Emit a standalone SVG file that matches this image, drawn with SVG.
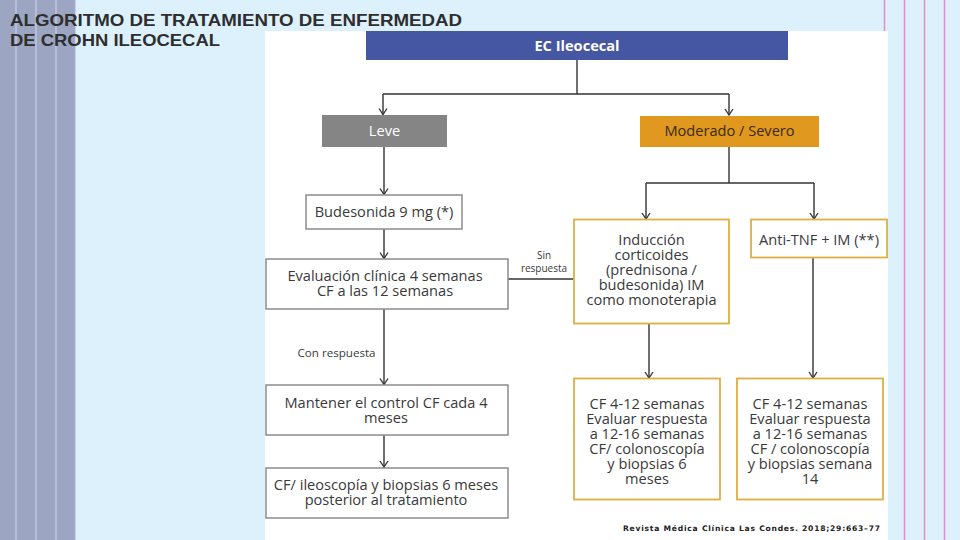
<svg xmlns="http://www.w3.org/2000/svg" width="960" height="540" viewBox="0 0 960 540">
<defs>
<style>
.bg{fill:#DDF1FD}
.stripe{stroke:#C9CFEA;stroke-width:1.2}
.pink{stroke:#E58AD6;stroke-width:1.5}
.title{font-family:"Liberation Sans",Arial,sans-serif;font-weight:bold;font-size:16.5px;fill:#2E2E2E}
.t{font-family:"Open Sans","DejaVu Sans",sans-serif;font-size:14.6px;fill:#3A3A3A;text-anchor:middle}
.lbl{font-family:"Open Sans","DejaVu Sans",sans-serif;font-size:10.5px;fill:#3A3A3A;text-anchor:middle}
.gbox{fill:#FFFFFF;stroke:#8C8C8C;stroke-width:1.5}
.obox{fill:#FFFFFF;stroke:#DDAE45;stroke-width:1.8}
.conn path{fill:none;stroke:#333333;stroke-width:1.4}
.cite{font-family:"DejaVu Sans",Verdana,sans-serif;font-weight:bold;font-size:7.6px;fill:#222}
</style>
<marker id="arr" viewBox="0 0 10 10" refX="9" refY="5" markerWidth="10" markerHeight="10" markerUnits="userSpaceOnUse" orient="auto">
<path d="M3,1 L9,5 L3,9" fill="none" stroke="#333333" stroke-width="1.3"/>
</marker>
</defs>

<rect class="bg" x="0" y="0" width="960" height="540"/>
<rect x="0" y="0" width="75" height="540" fill="#9CA6C3"/>
<line class="stripe" x1="16" y1="0" x2="16" y2="540"/>
<line class="stripe" x1="36" y1="0" x2="36" y2="540"/>
<line class="stripe" x1="56" y1="0" x2="56" y2="540"/>
<line class="stripe" x1="75.5" y1="0" x2="75.5" y2="540"/>
<line class="pink" x1="884.5" y1="0" x2="884.5" y2="32"/>
<line class="pink" x1="904.5" y1="0" x2="904.5" y2="540"/>
<line class="pink" x1="924.5" y1="0" x2="924.5" y2="540"/>
<line class="pink" x1="944.5" y1="0" x2="944.5" y2="540"/>

<rect x="265" y="31" width="623" height="509" fill="#FFFFFF"/>

<text class="title" x="10" y="26" textLength="452" lengthAdjust="spacingAndGlyphs">ALGORITMO DE TRATAMIENTO DE ENFERMEDAD</text>
<text class="title" x="10" y="46" textLength="210" lengthAdjust="spacingAndGlyphs">DE CROHN ILEOCECAL</text>

<g class="conn">
<path d="M577,60 V94"/>
<path d="M383,94 H729"/>
<path d="M383,94 V114.5" marker-end="url(#arr)"/>
<path d="M729,94 V115" marker-end="url(#arr)"/>
<path d="M384,147 V194.5" marker-end="url(#arr)"/>
<path d="M384,229 V258.5" marker-end="url(#arr)"/>
<path d="M384,309 V384.5" marker-end="url(#arr)"/>
<path d="M384,435 V467" marker-end="url(#arr)"/>
<path d="M508,279 H573.5"/>
<path d="M729,147 V183"/>
<path d="M646,183 H814"/>
<path d="M646,183 V219" marker-end="url(#arr)"/>
<path d="M814,183 V219" marker-end="url(#arr)"/>
<path d="M649,323 V378" marker-end="url(#arr)"/>
<path d="M813,258 V378" marker-end="url(#arr)"/>
</g>
<text class="lbl" x="544" y="259" style="font-size:10px">Sin</text>
<text class="lbl" x="544" y="272" style="font-size:10px">respuesta</text>
<text class="lbl" x="336.5" y="357" style="font-size:11.6px">Con respuesta</text>

<g id="ec">
<rect x="366" y="31" width="422" height="29" fill="#4556A2"/>
<text class="t" x="577" y="51" style="fill:#FFFFFF;font-weight:bold">EC Ileocecal</text>
</g>
<g id="leve">
<rect x="322" y="115" width="125" height="32" fill="#858585"/>
<text class="t" x="384.5" y="136" style="fill:#FFFFFF">Leve</text>
</g>
<g id="moderado">
<rect x="640" y="116" width="179" height="31" fill="#E0981F"/>
<text class="t" x="729.5" y="136" style="fill:#3A2A10">Moderado / Severo</text>
</g>
<g id="budesonida">
<rect class="gbox" x="306" y="195" width="156" height="34"/>
<text class="t" x="384" y="217">Budesonida 9 mg (*)</text>
</g>
<g id="evaluacion">
<rect class="gbox" x="266" y="259" width="242" height="50"/>
<text class="t" x="385" y="281">Evaluación clínica 4 semanas</text>
<text class="t" x="385" y="296">CF a las 12 semanas</text>
</g>
<g id="mantener">
<rect class="gbox" x="266" y="385" width="242" height="50"/>
<text class="t" x="386" y="408">Mantener el control CF cada 4</text>
<text class="t" x="386" y="423">meses</text>
</g>
<g id="cf-ileo">
<rect class="gbox" x="266" y="468" width="242" height="50"/>
<text class="t" x="386" y="490">CF/ ileoscopía y biopsias 6 meses</text>
<text class="t" x="386" y="505">posterior al tratamiento</text>
</g>
<g id="induccion">
<rect class="obox" x="574" y="219.5" width="155" height="104"/>
<text class="t" x="651.5" y="245">Inducción</text>
<text class="t" x="651.5" y="260">corticoides</text>
<text class="t" x="651.5" y="275">(prednisona /</text>
<text class="t" x="651.5" y="290">budesonida) IM</text>
<text class="t" x="651.5" y="305">como monoterapia</text>
</g>
<g id="antitnf">
<rect class="obox" x="751" y="219.5" width="136" height="38"/>
<text class="t" x="819" y="245">Anti-TNF + IM (**)</text>
</g>
<g id="cf-left">
<rect class="obox" x="574" y="378.5" width="146" height="121"/>
<text class="t" x="647" y="408.5">CF 4-12 semanas</text>
<text class="t" x="647" y="423.5">Evaluar respuesta</text>
<text class="t" x="647" y="438.5">a 12-16 semanas</text>
<text class="t" x="647" y="453.5">CF/ colonoscopía</text>
<text class="t" x="647" y="468.5">y biopsias 6</text>
<text class="t" x="647" y="483.5">meses</text>
</g>
<g id="cf-right">
<rect class="obox" x="737" y="378.5" width="146" height="121"/>
<text class="t" x="810" y="408.5">CF 4-12 semanas</text>
<text class="t" x="810" y="423.5">Evaluar respuesta</text>
<text class="t" x="810" y="438.5">a 12-16 semanas</text>
<text class="t" x="810" y="453.5">CF / colonoscopía</text>
<text class="t" x="810" y="468.5">y biopsias semana</text>
<text class="t" x="810" y="483.5">14</text>
</g>
<text class="cite" x="623" y="530.5" textLength="257" lengthAdjust="spacing">Revista Médica Clínica Las Condes. 2018;29:663–77</text>
</svg>
